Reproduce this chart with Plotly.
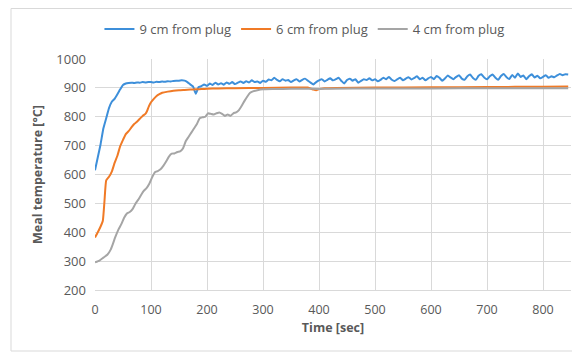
import plotly.graph_objects as go

# ---- data ----
t_blue = list(range(0, 850, 5))
blue = [615, 660, 705, 760, 795, 830, 852, 862, 878, 895,
        910, 915, 917, 918, 917, 919, 918, 920, 919, 920,
        920, 919, 921, 920, 922, 921, 923, 922, 924, 925,
        925, 926, 925, 920, 912, 905, 880, 903, 906, 912,
        907, 915, 910, 918, 912, 916, 911, 919, 914, 920,
        913, 918, 922, 917, 923, 919, 926, 920, 922, 917,
        925, 921, 929, 926, 935, 928, 923, 930, 925, 927,
        920, 926, 930, 922, 928, 932, 925, 918, 912, 920,
        926, 930, 922, 928, 933, 926, 930, 935, 924, 915,
        927, 932, 925, 930, 918, 924, 930, 927, 933, 926,
        930, 923, 928, 935, 930, 938, 928, 924, 930, 935,
        926, 932, 937, 929, 934, 940, 930, 935, 926, 933,
        938, 930, 941, 935, 925, 933, 943, 936, 930, 938,
        944, 932, 928, 940, 946, 934, 928, 942, 947, 936,
        930, 940, 946, 935, 928, 941, 948, 937, 931, 945,
        935, 950, 938, 943, 930, 940, 947, 936, 942, 933,
        938, 944, 935, 940, 937, 943, 948, 944, 947, 946]

t_orange = [0, 5, 10, 14, 17, 20, 25, 30, 35, 40, 45, 50, 55, 60, 65, 70, 75, 80,
            85, 90, 93, 96, 100, 105, 110, 115, 120, 130, 140, 150, 160, 170, 180,
            190, 200, 220, 250, 300, 350, 380, 390, 395, 400, 410, 430, 500, 600,
            700, 800, 845]
orange = [382, 400, 420, 440, 510, 580, 592, 610, 640, 665, 698, 720, 740, 750,
          763, 775, 783, 793, 803, 810, 820, 835, 850, 862, 872, 878, 883, 887,
          890, 892, 893, 894, 895, 896, 897, 898, 899, 900, 901, 901, 894, 892,
          896, 899, 900, 901, 902, 903, 904, 905]

t_gray = [0, 8, 15, 22, 28, 32, 36, 42, 47, 52, 57, 62, 67, 72, 77, 82, 87, 92, 97,
          102, 107, 112, 117, 122, 127, 132, 137, 142, 147, 152, 157, 162, 167, 172,
          177, 182, 187, 192, 197, 202, 207, 212, 217, 222, 227, 232, 237, 242, 247,
          252, 257, 262, 267, 272, 277, 282, 290, 300, 320, 350, 380, 400, 420, 500,
          600, 700, 800, 845]
gray = [296, 302, 312, 322, 340, 360, 382, 410, 428, 450, 465, 470, 480, 498, 512,
        528, 543, 553, 568, 590, 608, 612, 618, 630, 645, 662, 672, 673, 678, 680,
        690, 715, 730, 745, 760, 775, 795, 798, 800, 812, 810, 808, 812, 815, 810,
        803, 808, 803, 812, 815, 823, 838, 855, 870, 883, 888, 892, 895, 896, 897,
        897, 896, 897, 898, 898, 899, 899, 899]

names = ["9 cm from plug", "6 cm from plug", "4 cm from plug"]
colors = ["#3D8FDA", "#F07A26", "#A5A5A5"]

x_ticks = list(range(0, 801, 100))
y_ticks = list(range(200, 1001, 100))

FONT = "Open Sans"
TXT = "#595959"

fig = go.Figure()
for tx, ty, nm, c in [(t_blue, blue, names[0], colors[0]),
                      (t_orange, orange, names[1], colors[1]),
                      (t_gray, gray, names[2], colors[2])]:
    fig.add_trace(go.Scatter(x=tx, y=ty, name=nm, mode="lines",
                             line=dict(color=c, width=2, shape="spline", smoothing=0.4)))

fig.update_layout(
    width=572, height=344,
    margin=dict(l=87, r=9, t=51, b=62, autoexpand=False),
    paper_bgcolor="white", plot_bgcolor="white",
    font=dict(family=FONT, color=TXT, size=12),
    legend=dict(orientation="h", x=0.44, xanchor="center", y=1.13, yanchor="middle",
                font=dict(size=13, color=TXT), itemwidth=30,
                tracegroupgap=0, bgcolor="rgba(0,0,0,0)"),
    xaxis=dict(range=[0, 850], tickvals=x_ticks, showgrid=True, gridcolor="#D9D9D9",
               gridwidth=1, zeroline=False, showline=True, linecolor="#D9D9D9",
               tickfont=dict(size=12.5, color=TXT), ticks="", automargin=False,
               ticklabelstandoff=8,
               title=dict(text="<b>Time [sec]</b>", font=dict(size=12.5, color=TXT), standoff=6)),
    yaxis=dict(range=[200, 1000], tickvals=y_ticks, showgrid=True, gridcolor="#D9D9D9",
               gridwidth=1, zeroline=False, showline=False, automargin=False,
               tickfont=dict(size=13, color=TXT), ticks="", ticklabelstandoff=8,
               title=dict(text="<b>Meal temperature [°C]</b>", font=dict(size=12.5, color=TXT), standoff=10)),
    shapes=[dict(type="rect", xref="paper", yref="paper",
                 x0=(3 - 87) / 476, x1=(571 - 87) / 476,
                 y0=-(343 - 282) / 231, y1=1 + (51 - 0.5) / 231,
                 line=dict(color="#D9D9D9", width=1), layer="below")],
)

fig.write_html("out.html")
